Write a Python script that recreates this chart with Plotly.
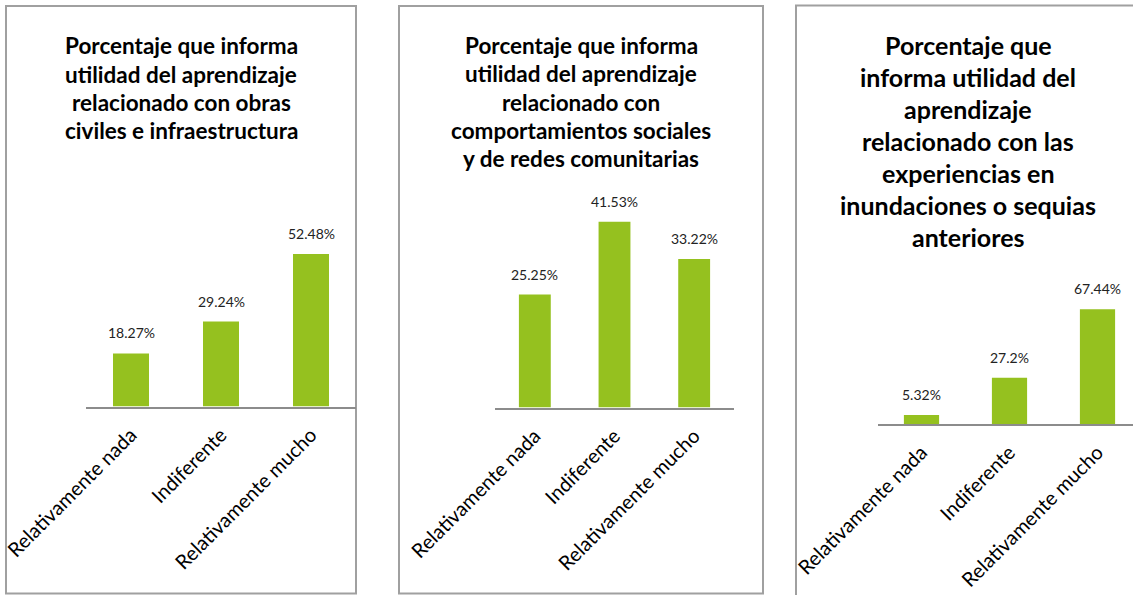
import plotly.graph_objects as go

W, H = 1133, 595

categories = ["Relativamente nada", "Indiferente", "Relativamente mucho"]
values_obras = [18.27, 29.24, 52.48]
values_sociales = [25.25, 41.53, 33.22]
values_experiencias = [5.32, 27.2, 67.44]
labels_obras = ["18.27%", "29.24%", "52.48%"]
labels_sociales = ["25.25%", "41.53%", "33.22%"]
labels_experiencias = ["5.32%", "27.2%", "67.44%"]

title_obras = ["Porcentaje que informa", "utilidad del aprendizaje",
               "relacionado con obras", "civiles e infraestructura"]
title_sociales = ["Porcentaje que informa", "utilidad del aprendizaje",
                  "relacionado con", "comportamientos sociales",
                  "y de redes comunitarias"]
title_experiencias = ["Porcentaje que", "informa utilidad del", "aprendizaje",
                      "relacionado con las", "experiencias en",
                      "inundaciones o sequias", "anteriores"]

BAR = "#95c11f"
BORDER = "#a0a0a0"
AXIS = "#8c8c8c"
FONT = "Lato"

def px_x(p):
    return p / W

def px_y(p):
    return 1 - p / H

panels = [
    dict(vals=values_obras, labels=labels_obras, title=title_obras,
         x0=86, x1=356, axis_y=406.5, top=232.1, ymax=60,
         box=(6, 6, 356, 593.5), tcx=181, t0=46, tstep=28.3, tsize=22.5),
    dict(vals=values_sociales, labels=labels_sociales, title=title_sociales,
         x0=495, x1=734, axis_y=407.5, top=206.2, ymax=45,
         box=(399, 6, 763, 593.5), tcx=581, t0=45.5, tstep=28.3, tsize=22.5),
    dict(vals=values_experiencias, labels=labels_experiencias, title=title_experiencias,
         x0=877.5, x1=1141.5, axis_y=424, top=296.5, ymax=75,
         box=(796, 5.5, 1140, 600), tcx=968, t0=45, tstep=32.0, tsize=25),
]

fig = go.Figure()
shapes = []
annotations = []
layout_axes = {}

for i, p in enumerate(panels):
    n = "" if i == 0 else str(i + 1)
    xa, ya = "x" + n, "y" + n
    step = (p["x1"] - p["x0"]) / len(categories)
    dend = min(p["x1"], W)
    rend = -0.5 + (dend - p["x0"]) / step
    fig.add_trace(go.Bar(x=categories, y=p["vals"], marker_color=BAR,
                         marker_line_width=0, xaxis=xa, yaxis=ya,
                         showlegend=False, hoverinfo="skip", cliponaxis=False))
    layout_axes["xaxis" + n] = dict(
        domain=[px_x(p["x0"]), px_x(dend)], range=[-0.5, rend],
        anchor=ya, showline=True, linecolor=AXIS, linewidth=2,
        ticks="", tickangle=-45, showgrid=False, zeroline=False,
        tickfont=dict(family=FONT, size=20, color="#000000"),
        ticklabelstandoff=7,
        fixedrange=True, automargin=False,
    )
    layout_axes["yaxis" + n] = dict(
        domain=[px_y(p["axis_y"]), px_y(p["top"])],
        anchor=xa, range=[0, p["ymax"]], visible=False,
        showgrid=False, zeroline=False, fixedrange=True, automargin=False,
    )
    for c, v, t in zip(categories, p["vals"], p["labels"]):
        annotations.append(dict(x=c, y=v, xref=xa, yref=ya, text=t,
                                showarrow=False, yanchor="bottom", yshift=10,
                                font=dict(family=FONT, size=14, color="#222222")))
    for j, line in enumerate(p["title"]):
        annotations.append(dict(x=px_x(p["tcx"]), y=px_y(p["t0"] + j * p["tstep"]),
                                xref="paper", yref="paper", text="<b>" + line + "</b>",
                                showarrow=False, xanchor="center", yanchor="middle",
                                font=dict(family=FONT, size=p["tsize"], color="#000000")))
    bx0, by0, bx1, by1 = p["box"]
    shapes.append(dict(type="rect", xref="paper", yref="paper",
                       x0=px_x(bx0), x1=px_x(bx1), y0=px_y(by1), y1=px_y(by0),
                       line=dict(color=BORDER, width=2), fillcolor="rgba(0,0,0,0)",
                       layer="below"))

fig.update_layout(
    width=W, height=H,
    margin=dict(l=0, r=0, t=0, b=0, autoexpand=False),
    paper_bgcolor="white", plot_bgcolor="rgba(0,0,0,0)",
    bargap=0.6,
    shapes=shapes, annotations=annotations,
    font=dict(family=FONT),
    **layout_axes,
)

fig.write_html("out.html", config={"displayModeBar": False},
               post_script="document.body.style.margin='0';document.body.style.overflow='hidden';")
